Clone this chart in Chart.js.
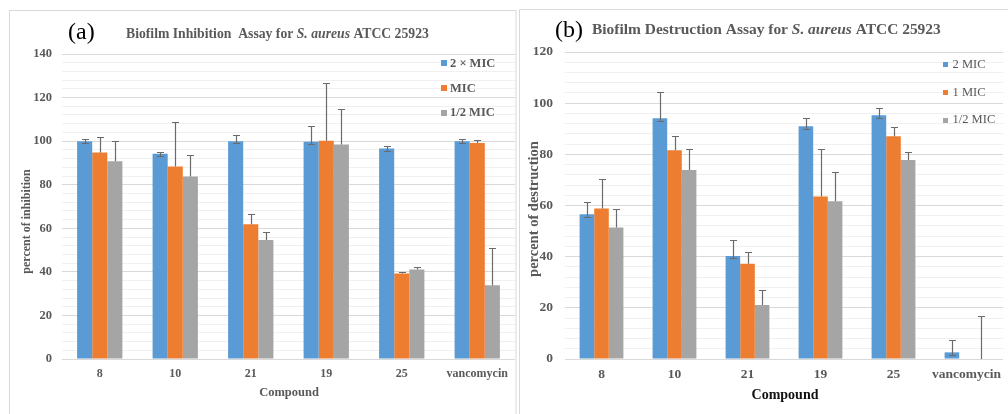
<!DOCTYPE html>
<html><head><meta charset="utf-8">
<script src="https://cdn.jsdelivr.net/npm/chart.js@4.4.0/dist/chart.umd.min.js"></script>
<style>
html,body{margin:0;padding:0;background:#fff;width:1008px;height:414px;overflow:hidden;}
#ca{position:absolute;left:0;top:0;}
#cb{position:absolute;left:519px;top:0;}
</style></head><body>
<canvas id="ca" width="519" height="414"></canvas>
<canvas id="cb" width="489" height="414"></canvas>
<script>
// ---- data ----
const categories = ['8', '10', '21', '19', '25', 'vancomycin'];

// (a) Biofilm inhibition
const inhib2MIC     = [100, 94.2, 100, 99.7, 96.6, 100];
const inhibMIC      = [94.8, 88.4, 61.8, 100.2, 39.3, 99.1];
const inhibHalfMIC  = [90.8, 83.8, 54.6, 98.5, 41.1, 33.9];
const inhib2MICErr    = [0.8, 0.8, 2.8, 7.2, 1.2, 0.8];
const inhibMICErr     = [7.3, 20.3, 4.9, 26.3, 0.8, 1.2];
const inhibHalfMICErr = [9.2, 9.9, 3.8, 16.1, 1.1, 16.9];

// (b) Biofilm destruction
const destr2MIC     = [56.6, 94.1, 40.3, 91.0, 95.3, 2.6];
const destr1MIC     = [58.8, 81.6, 37.2, 63.5, 87.1, 0];
const destrHalfMIC  = [51.4, 73.9, 21.1, 61.7, 77.8, 0];
const destr2MICErr    = [4.8, 10.4, 6.2, 3.3, 3.0, 4.8];
const destr1MICErr    = [11.5, 5.6, 4.5, 18.7, 3.7, 0];
const destrHalfMICErr = [7.1, 8.3, 5.9, 11.4, 3.0, 16.7];

const legendA = ['2 \u00d7 MIC', 'MIC', '1/2 MIC'];
const legendB = ['2 MIC', '1 MIC', '1/2 MIC'];

const COLORS = ['#5B9BD5', '#ED7D31', '#A5A5A5'];
const SERIF = '"Liberation Serif", "Times New Roman", serif';
const GRAY = '#595959';

function makePlugin(cfg) {
  return {
    id: 'deco',
    beforeDraw(chart) {
      const ctx = chart.ctx;
      ctx.save();
      ctx.strokeStyle = '#d9d9d9';
      ctx.lineWidth = 1;
      cfg.border(ctx);
      ctx.restore();
    },
    afterDatasetsDraw(chart) {
      const ctx = chart.ctx;
      const ys = chart.scales.y;
      ctx.save();
      ctx.strokeStyle = '#6b6b6b';
      ctx.lineWidth = 1.2;
      chart.data.datasets.forEach((ds, di) => {
        const meta = chart.getDatasetMeta(di);
        meta.data.forEach((el, i) => {
          const v = ds.data[i], e = ds.errors[i];
          if (!e) return;
          const x = Math.round(el.x) + 0.5;
          const y0 = ys.getPixelForValue(v);
          const y1 = Math.round(ys.getPixelForValue(v + e)) + 0.5;
          const yl = ds.lowerCap ? Math.round(ys.getPixelForValue(Math.max(0, v - Math.min(e, 1)))) + 0.5 : y0;
          ctx.beginPath();
          ctx.moveTo(x, yl); ctx.lineTo(x, y1);
          ctx.moveTo(x - 3.5, y1); ctx.lineTo(x + 3.5, y1);
          if (ds.lowerCap) { ctx.moveTo(x - 3.5, yl); ctx.lineTo(x + 3.5, yl); }
          ctx.stroke();
        });
      });
      ctx.restore();
    },
    afterDraw(chart) {
      const ctx = chart.ctx;
      ctx.save();
      ctx.textBaseline = 'middle';
      // panel letter
      ctx.fillStyle = '#000';
      ctx.font = '24px ' + SERIF;
      ctx.textAlign = 'left';
      ctx.fillText(cfg.letter, cfg.letterX, cfg.letterY);
      // title with italic species name
      let x = cfg.titleX;
      ctx.fillStyle = GRAY;
      cfg.titleParts.forEach(p => {
        ctx.font = (p.italic ? 'italic ' : '') + 'bold ' + cfg.titleSize + 'px ' + SERIF;
        ctx.fillText(p.t, x, cfg.titleY);
        x += ctx.measureText(p.t).width;
      });
      // legend
      cfg.legend.forEach((lab, i) => {
        const y = cfg.legY[i];
        ctx.fillStyle = COLORS[i];
        ctx.fillRect(cfg.legSqX, Math.round(y - cfg.legSq / 2), cfg.legSq, cfg.legSq);
        ctx.fillStyle = GRAY;
        ctx.font = cfg.legFont;
        ctx.fillText(lab, cfg.legTextX, y);
      });
      // y axis title
      ctx.save();
      ctx.translate(cfg.yTitleX, cfg.yTitleY);
      ctx.rotate(-Math.PI / 2);
      ctx.textAlign = 'center';
      ctx.fillStyle = GRAY;
      ctx.font = cfg.yTitleFont;
      ctx.fillText(cfg.yTitle, 0, 0);
      ctx.restore();
      // x axis title
      ctx.textAlign = 'center';
      ctx.fillStyle = cfg.xTitleColor;
      ctx.font = cfg.xTitleFont;
      ctx.fillText('Compound', cfg.xTitleX, cfg.xTitleY);
      ctx.restore();
    }
  };
}

function build(canvasId, series, errs, labels, cfg) {
  const datasets = series.map((d, i) => ({
    label: labels[i],
    data: d,
    errors: errs[i],
    lowerCap: i === 0,
    backgroundColor: COLORS[i],
    borderWidth: 0,
    categoryPercentage: 0.6,
    barPercentage: 1.0
  }));
  return new Chart(document.getElementById(canvasId), {
    type: 'bar',
    data: { labels: categories, datasets },
    plugins: [makePlugin(cfg)],
    options: {
      responsive: false,
      animation: false,
      devicePixelRatio: 1,
      layout: { padding: cfg.padding },
      plugins: { legend: { display: false }, tooltip: { enabled: false }, title: { display: false } },
      scales: {
        x: {
          afterFit(s) { s.height = cfg.xHeight; },
          grid: { display: false, drawTicks: false },
          border: { display: false },
          ticks: { padding: cfg.xTickPad, color: GRAY, maxRotation: 0, autoSkip: false,
                   font: { family: SERIF, weight: 'bold', size: cfg.xTickSize } }
        },
        y: {
          min: 0, max: cfg.yMax,
          afterFit(s) { s.width = cfg.yWidth; },
          border: { display: false },
          grid: { drawTicks: false, lineWidth: 1,
                  color: c => (c.tick.value % 20 === 0 ? '#d9d9d9' : '#f0f0f0') },
          ticks: { stepSize: 4, padding: cfg.yTickPad, autoSkip: false, color: GRAY,
                   font: { family: SERIF, weight: 'bold', size: cfg.yTickSize },
                   callback: v => (v % 20 === 0 ? String(v) : '') }
        }
      }
    }
  });
}

build('ca', [inhib2MIC, inhibMIC, inhibHalfMIC], [inhib2MICErr, inhibMICErr, inhibHalfMICErr], legendA, {
  padding: { top: 54, right: 4, left: 0, bottom: 0 },
  xHeight: 55, yWidth: 62, yMax: 140,
  xTickPad: 8, xTickSize: 12, yTickPad: 10, yTickSize: 12.5,
  border(ctx) { ctx.strokeRect(9.5, 10.5, 506.5, 410); },
  letter: '(a)', letterX: 68, letterY: 33,
  titleX: 126, titleY: 34.5, titleSize: 13.7,
  titleParts: [{ t: 'Biofilm Inhibition  Assay for ' }, { t: 'S. aureus', italic: true }, { t: ' ATCC 25923' }],
  legend: legendA, legY: [63.3, 88.3, 112.7], legSqX: 441, legSq: 6, legTextX: 450,
  legFont: 'bold 12.5px ' + SERIF,
  yTitle: 'percent of inhibition', yTitleX: 27, yTitleY: 221.5, yTitleFont: 'bold 12px ' + SERIF,
  xTitleColor: GRAY, xTitleFont: 'bold 12.5px ' + SERIF, xTitleX: 289, xTitleY: 392.7
});

build('cb', [destr2MIC, destr1MIC, destrHalfMIC], [destr2MICErr, destr1MICErr, destrHalfMICErr], legendB, {
  padding: { top: 52, right: 0, left: 0, bottom: 0 },
  xHeight: 55, yWidth: 46, yMax: 120,
  xTickPad: 7, xTickSize: 13.5, yTickPad: 12, yTickSize: 13.5,
  border(ctx) {
    ctx.beginPath();
    ctx.moveTo(0.5, 414); ctx.lineTo(0.5, 9.5); ctx.lineTo(489, 9.5);
    ctx.stroke();
  },
  letter: '(b)', letterX: 36, letterY: 31,
  titleX: 73, titleY: 30, titleSize: 15.45,
  titleParts: [{ t: 'Biofilm Destruction Assay for ' }, { t: 'S. aureus', italic: true }, { t: ' ATCC 25923' }],
  legend: legendB, legY: [64.3, 92.3, 120], legSqX: 424, legSq: 5, legTextX: 433.5,
  legFont: '12.5px ' + SERIF,
  yTitle: 'percent of destruction', yTitleX: 15, yTitleY: 209, yTitleFont: 'bold 14.5px ' + SERIF,
  xTitleColor: '#111', xTitleFont: 'bold 14px ' + SERIF, xTitleX: 266, xTitleY: 395
});
</script>
</body></html>
